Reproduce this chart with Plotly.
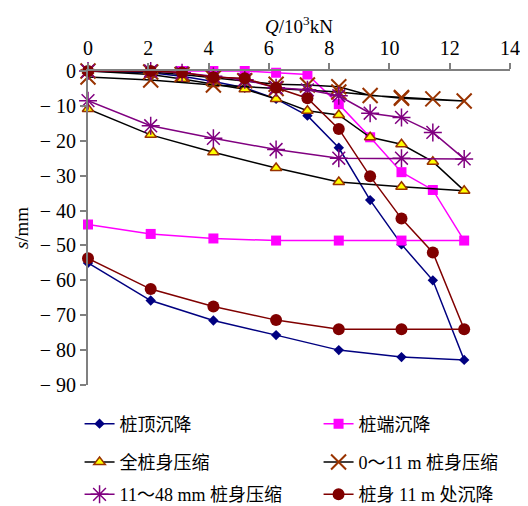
import plotly.graph_objects as go

# Load steps (10^3 kN)
Q_load = [0, 2.08, 3.12, 4.16, 5.2, 6.24, 7.28, 8.32, 9.36, 10.4, 11.44, 12.48]
Q_unload = [10.4, 8.32, 6.24, 4.16, 2.08, 0]

names = ["桩顶沉降", "桩端沉降", "全桩身压缩", "0～11 m 桩身压缩",
         "11～48 mm 桩身压缩", "桩身 11 m 处沉降"]

top_load = [0, -0.5, -1.5, -3, -4.8, -8, -12.8, -22, -37, -49.7, -60, -82.8]
top_unload = [-82, -80, -75.7, -71.5, -65.8, -55]

tip_load = [0, 0, 0, 0, 0, -0.5, -1, -9.5, -19, -29, -34.1, -48.6]
tip_unload = [-48.6, -48.6, -48.6, -48, -46.7, -44]

body_load = [0, -1, -2.3, -3.7, -5.2, -8, -11.4, -12.6, -19, -21, -26, -34.3]
body_unload = [-33.2, -31.8, -27.8, -23.3, -18.3, -10.9]

seg1_load = [0, -0.3, -1, -2, -2.8, -3.8, -4, -4.5, -7, -7.6, -8, -8.6]
seg1_unload = [-7.8, -6, -5, -4, -2.6, -1.7]

seg2_load = [0, 0, -0.5, -1.5, -2.5, -4.8, -5.4, -7.1, -12.1, -13.3, -17.6, -25.2]
seg2_unload = [-25, -25, -22.5, -19.3, -15.7, -8.5]

mid_load = [0, 0, -0.4, -1.8, -2.1, -4.8, -7.8, -16.6, -30.2, -42.3, -52, -74]
mid_unload = [-74, -74, -71.4, -67.5, -62.5, -53.7]

x_ticks = [0, 2, 4, 6, 8, 10, 12, 14]
y_ticks = [0, -10, -20, -30, -40, -50, -60, -70, -80, -90]
y_ticktext = ["0" if v == 0 else "\u2212 " + str(-v) for v in y_ticks]

series = [
    (top_load, top_unload, dict(symbol="diamond", size=8, color="#000080"), "#000080", "legend"),
    (tip_load, tip_unload, dict(symbol="square", size=10, color="#FF00FF"), "#FF00FF", "legend"),
    (body_load, body_unload, dict(symbol="triangle-up", size=10, color="#FFFF00",
                                  line=dict(color="#993300", width=1.5)), "#000000", "legend2"),
    (seg1_load, seg1_unload, dict(symbol="x-thin-open", size=15, color="#993300",
                                  line=dict(color="#993300", width=2)), "#000000", "legend2"),
    (seg2_load, seg2_unload, dict(symbol="asterisk-open", size=15, color="#800080",
                                  line=dict(color="#800080", width=1.5)), "#800080", "legend3"),
    (mid_load, mid_unload, dict(symbol="circle", size=12, color="#800000"), "#800000", "legend3"),
]

FONT = "Liberation Serif, Times New Roman, Noto Sans CJK SC, serif"

fig = go.Figure()
for name, (ld, ul, mk, lc, lg) in zip(names, series):
    fig.add_trace(go.Scatter(
        x=Q_load + Q_unload, y=ld + ul, name=name, mode="lines+markers",
        line=dict(color=lc, width=1.5), marker=mk, cliponaxis=False, legend=lg))

leg_common = dict(orientation="h", xanchor="left", yanchor="middle", x=-0.02,
                  entrywidth=194, entrywidthmode="pixels",
                  font=dict(family=FONT, size=18, color="#000"),
                  bgcolor="rgba(0,0,0,0)", tracegroupgap=0)

fig.update_layout(
    width=528, height=506,
    margin=dict(l=80, r=26, t=63, b=129, autoexpand=False),
    plot_bgcolor="white", paper_bgcolor="white",
    font=dict(family=FONT, size=20, color="#000"),
    legend=dict(leg_common, y=-0.124),
    legend2=dict(leg_common, y=-0.246),
    legend3=dict(leg_common, y=-0.349),
    xaxis=dict(side="top", range=[0, 14], tickvals=x_ticks, automargin=False,
               showline=True, linecolor="#808080", linewidth=2,
               ticks="outside", ticklen=6, tickcolor="#808080", tickwidth=1.5,
               showgrid=False, zeroline=False, tickfont=dict(size=20)),
    yaxis=dict(range=[-90, 0], tickvals=y_ticks, ticktext=y_ticktext, automargin=False,
               showline=True, linecolor="#808080", linewidth=2,
               ticks="outside", ticklen=6, tickcolor="#808080", tickwidth=1.5,
               showgrid=False, zeroline=False, tickfont=dict(size=20),
               title=dict(text="<i>s</i>/mm", standoff=6,
                          font=dict(family=FONT, size=19))),
    annotations=[dict(text="<i>Q</i>/10<sup>3</sup>kN", xref="paper", yref="paper",
                      x=0.5, y=1.146, xanchor="center", yanchor="middle",
                      showarrow=False, font=dict(family=FONT, size=19))],
)

fig.write_html("out.html")
